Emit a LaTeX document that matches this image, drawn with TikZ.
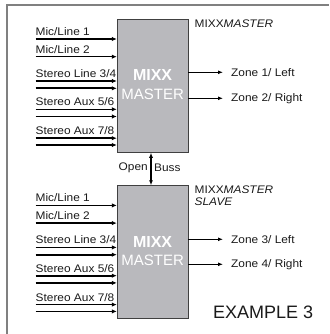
\documentclass[tikz,border=0pt]{standalone}
\usepackage{fontspec}
\setmainfont{Liberation Sans}
\newfontfamily\widefont[FakeStretch=1.08]{Liberation Sans}
\usetikzlibrary{arrows.meta}
\definecolor{boxgray}{HTML}{B9B9BD}
\definecolor{txt}{HTML}{1A1A1A}
\tikzset{
  mixbox/.style={draw=black!75, line width=0.9pt, fill=boxgray, minimum width=70.7pt, minimum height=133pt, inner sep=0pt},
  inlabel/.style={anchor=base west, inner sep=0pt, text=txt, font=\widefont\fontsize{11}{13}\selectfont},
  outlabel/.style={anchor=west, inner sep=0pt, text=txt, font=\widefont\fontsize{11}{13}\selectfont},
  inarrow/.style={line width=1.6pt, -{Latex[length=5pt,width=4.5pt]}},
  outarrow/.style={line width=1pt, -{Latex[length=5pt,width=4pt]}},
  frameline/.style={draw=black!50, line width=1.6pt},
  boxtext/.style={text=white, inner sep=0pt},
}
\begin{document}
\begin{tikzpicture}[x=1pt,y=-1pt]
\useasboundingbox (0,0) rectangle (329,334);
\draw[frameline] (7,334) -- (7,5) -- (329,5);

% boxes
\node[mixbox] (m1) at (152.6,85.8) {};
\node[mixbox] (m2) at (152.6,252.2) {};
\node[boxtext, font=\bfseries\fontsize{16}{17}\selectfont] (m1t) at (152.6,75.3) {MIXX};
\node[boxtext, font=\bfseries\fontsize{16}{17}\selectfont] (m2t) at (152.6,241.7) {MIXX};
\node[boxtext, font=\fontsize{15}{17}\selectfont] (m1lab) at (152.6,94.4) {MASTER};
\node[boxtext, font=\fontsize{15}{17}\selectfont] (m2lab) at (152.6,260.8) {MASTER};

% inputs for both boxes
\foreach \b/\dy in {m1/0, m2/166.4}{
  \coordinate (\b a) at (35.5,39+\dy);
  \coordinate (\b b) at (35.5,56.7+\dy);
  \coordinate (\b c) at (35.5,81+\dy);
  \coordinate (\b d) at (35.5,88.3+\dy);
  \coordinate (\b e) at (35.5,109.3+\dy);
  \coordinate (\b f) at (35.5,116.5+\dy);
  \coordinate (\b g) at (35.5,138.2+\dy);
  \coordinate (\b h) at (35.5,145+\dy);
  \foreach \p in {a,b,c,d,e,f,g,h}{
    \draw[inarrow] (\b\p) -- (\b\p -| \b.west);
  }
  \node[inlabel] (\b la) at ([yshift=3.6pt]\b a) {Mic/Line 1};
  \node[inlabel] (\b lb) at ([yshift=3.6pt]\b b) {Mic/Line 2};
  \node[inlabel] (\b lc) at ([yshift=3.6pt]\b c) {Stereo Line 3/4};
  \node[inlabel] (\b le) at ([yshift=3.6pt]\b e) {Stereo Aux 5/6};
  \node[inlabel] (\b lg) at ([yshift=3.6pt]\b g) {Stereo Aux 7/8};
}

% outputs
\coordinate (o1) at (223,72.3);
\coordinate (o2) at (223,98.3);
\coordinate (o3) at (223,239.3);
\coordinate (o4) at (223,264.3);
\draw[outarrow] (o1 -| m1.east) -- (o1);
\draw[outarrow] (o2 -| m1.east) -- (o2);
\draw[outarrow] (o3 -| m2.east) -- (o3);
\draw[outarrow] (o4 -| m2.east) -- (o4);
\node[outlabel] (z1) at (231,72.3) {Zone 1/ Left};
\node[outlabel] (z2) at (231,98.3) {Zone 2/ Right};
\node[outlabel] (z3) at (231,239.3) {Zone 3/ Left};
\node[outlabel] (z4) at (231,264.3) {Zone 4/ Right};

% titles
\node[outlabel] (t1) at (194.5,23.5) {MIXX\textit{MASTER}};
\node[outlabel] (t2) at (194.5,189.5) {MIXX\textit{MASTER}};
\node[outlabel] (t3) at (194.5,202) {\textit{SLAVE}};

% open buss
\draw[line width=1.1pt, {Latex[length=5pt,width=4pt]}-{Latex[length=5pt,width=4pt]}] (m1.south -| 151,0) -- (m2.north -| 151,0);
\node[outlabel, anchor=east] (ob1) at (148,167.5) {Open};
\node[outlabel] (ob2) at (154,167.5) {Buss};

% example
\node[anchor=base west, inner sep=0pt, text=txt, font=\fontsize{18}{20}\selectfont] (ex) at (213,318) {EXAMPLE 3};
\end{tikzpicture}
\end{document}
